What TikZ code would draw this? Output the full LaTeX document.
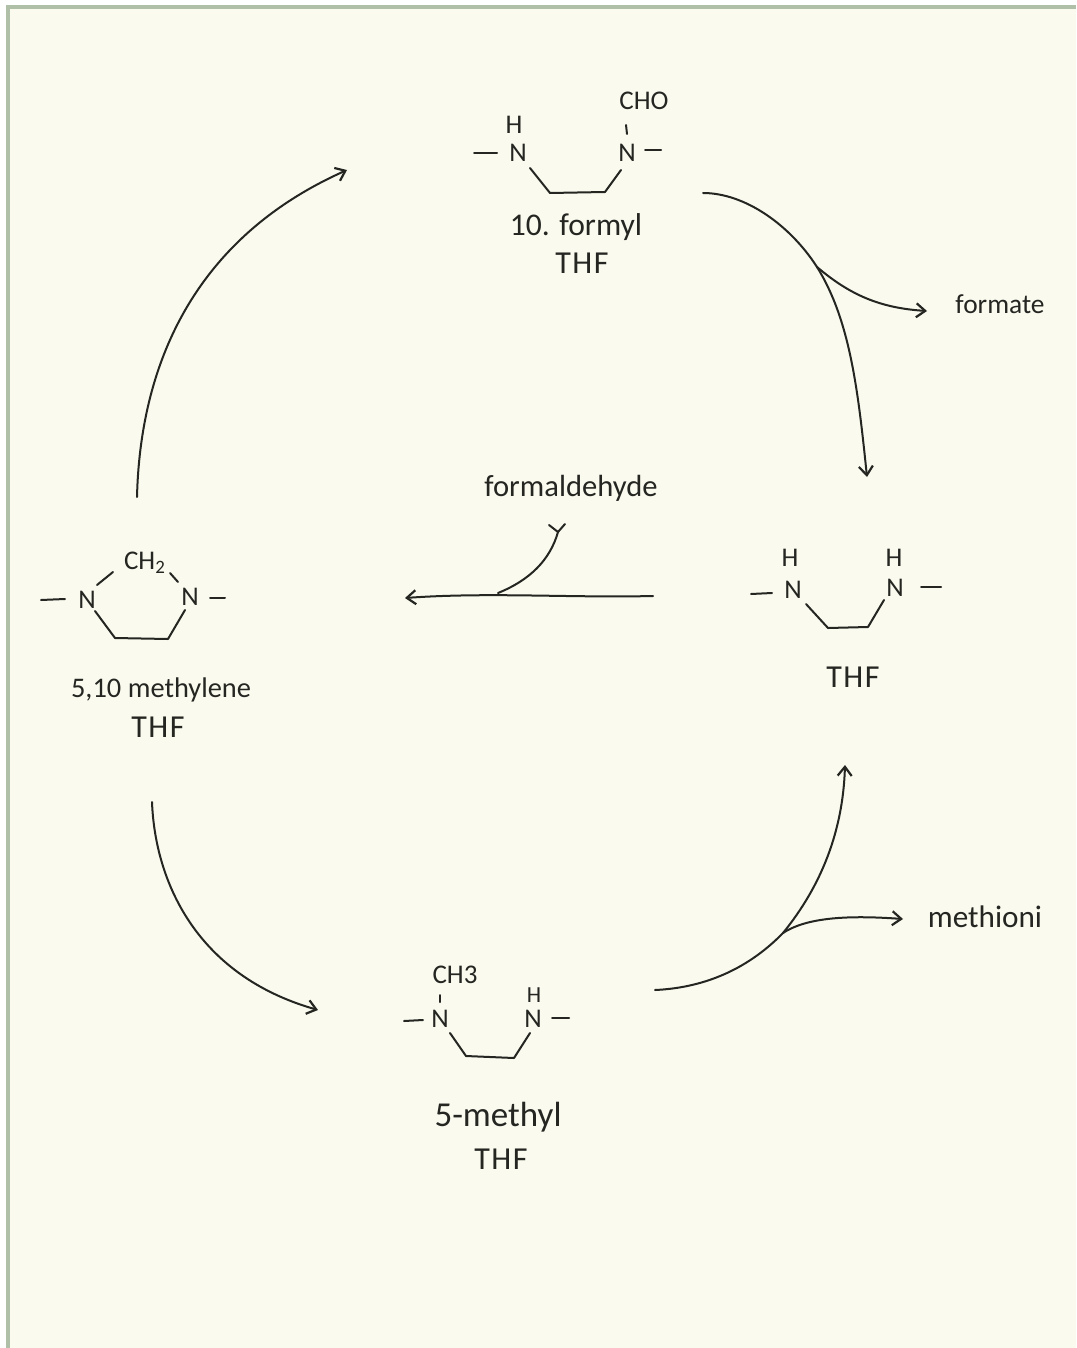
\documentclass[tikz,border=0pt]{standalone}
\usepackage{fontspec}
\setmainfont{Carlito}
\usetikzlibrary{arrows.meta}
\definecolor{paper}{HTML}{FAFBEE}
\definecolor{frame}{HTML}{B0BFA8}
\definecolor{ink}{HTML}{252522}
\tikzset{
  pen/.style={draw=ink,line width=1pt,line cap=round,line join=round},
  cyc/.style={pen,-{Straight Barb[length=4.5pt,width=7pt,line width=1.1pt]}},
  atom/.style={inner sep=0pt,text=ink,font=\fontsize{13.5}{13.5}\selectfont},
  lab/.style={inner sep=0pt,text=ink},
  thflab/.style={inner sep=0pt,text=ink,font=\fontsize{16}{16}\selectfont\addfontfeature{LetterSpace=5}},
}
\newcommand{\fs}[1]{\fontsize{#1}{#1}\selectfont}
\begin{document}
\begin{tikzpicture}[x=0.5pt,y=-0.5pt]
\useasboundingbox (0,0) rectangle (1076,1348);
\fill[white] (0,0) rectangle (1076,1348);
\fill[frame] (6,5) rectangle (1076,1348);
\fill[paper] (10,9) rectangle (1076,1348);

% --- 10-formyl THF
\node[atom] (fH) at (514,125) {H};
\node[atom] (fN1) at (518,153) {N};
\node[atom] (fN2) at (627,153) {N};
\node[atom] (fCHO) at (644,101) {CHO};
\coordinate (fa) at (530,168); \coordinate (fb) at (550,193);
\coordinate (fc) at (605,192); \coordinate (fd) at (621,170);
\draw[pen] (fa) -- (fb) -- (fc) -- (fd);
\coordinate (fe) at (474,153); \coordinate (ff) at (497,153);
\coordinate (fg) at (645,150); \coordinate (fh) at (661,150);
\coordinate (fi) at (626,125); \coordinate (fj) at (627,134);
\draw[pen] (fe) -- (ff); \draw[pen] (fg) -- (fh); \draw[pen] (fi) -- (fj);
\node[lab,font=\fs{15.8}] (fL1) at (576,227) {10. formyl};
\node[thflab] (fL2) at (582,263) {THF};

% --- THF
\node[atom] (tH1) at (790,558) {H};
\node[atom] (tN1) at (793,590) {N};
\node[atom] (tH2) at (894,558) {H};
\node[atom] (tN2) at (895,588) {N};
\coordinate (ta) at (806,604); \coordinate (tb) at (828,628);
\coordinate (tc) at (868,627); \coordinate (td) at (884,600);
\draw[pen] (ta) -- (tb) -- (tc) -- (td);
\coordinate (te) at (751,594); \coordinate (tf) at (772,593);
\coordinate (tg) at (921,587); \coordinate (th) at (941,587);
\draw[pen] (te) -- (tf); \draw[pen] (tg) -- (th);
\node[thflab] (tL) at (853,677) {THF};

% --- 5,10 methylene THF
\node[atom] (mN1) at (87,600) {N};
\node[atom] (mN2) at (190,597) {N};
\node[atom] (mCH) at (145,563) {CH\textsubscript{2}};
\coordinate (ma) at (95,611); \coordinate (mb) at (115,638);
\coordinate (mc) at (168,639); \coordinate (md) at (185,610);
\draw[pen] (ma) -- (mb) -- (mc) -- (md);
\coordinate (me) at (41,600); \coordinate (mf) at (65,599);
\coordinate (mg) at (210,598); \coordinate (mh) at (225,598);
\coordinate (mi) at (97,585); \coordinate (mj) at (113,572);
\coordinate (mk) at (170,573); \coordinate (ml) at (178,582);
\draw[pen] (me) -- (mf); \draw[pen] (mg) -- (mh);
\draw[pen] (mi) -- (mj); \draw[pen] (mk) -- (ml);
\node[lab,font=\fs{14.2}] (mL1) at (161,690) {5,10 methylene};
\node[thflab] (mL2) at (158,727) {THF};

% --- 5-methyl THF
\node[atom] (bCH) at (455,975) {CH3};
\node[atom] (bN1) at (440,1019) {N};
\node[atom,font=\fs{11.5}] (bH) at (534,995) {H};
\node[atom] (bN2) at (533,1019) {N};
\coordinate (ba) at (450,1033); \coordinate (bb) at (466,1056);
\coordinate (bc) at (514,1058); \coordinate (bd) at (530,1033);
\draw[pen] (ba) -- (bb) -- (bc) -- (bd);
\coordinate (be) at (404,1021); \coordinate (bf) at (423,1020);
\coordinate (bg) at (552,1018); \coordinate (bh) at (569,1018);
\coordinate (bi) at (440,995); \coordinate (bj) at (440,1002);
\draw[pen] (be) -- (bf); \draw[pen] (bg) -- (bh); \draw[pen] (bi) -- (bj);
\node[lab,font=\fs{17.5}] (bL1) at (498,1117) {5-methyl};
\node[thflab] (bL2) at (501,1159) {THF};

% --- side labels
\node[lab,font=\fs{13.7}] (formate) at (1000,304) {formate};
\node[lab,font=\fs{15.6}] (methioni) at (985,917) {methioni};
\node[lab,font=\fs{15.3}] (formald) at (571,488) {formaldehyde};

% --- cycle arrows
\coordinate (a1) at (137,497); \coordinate (a2) at (347,170);
\draw[cyc] (a1) .. controls (140,370) and (190,240) .. (a2);

\coordinate (b1) at (703,193); \coordinate (b2) at (817,267); \coordinate (b3) at (867,477);
\coordinate (b4) at (927,311);
\draw[pen] (b1) .. controls (745,193) and (790,225) .. (b2);
\draw[cyc] (b2) .. controls (850,320) and (858,390) .. (b3);
\draw[cyc] (b2) .. controls (850,295) and (880,308) .. (b4);

\coordinate (c1) at (653,596); \coordinate (c2) at (405,598); \coordinate (c3) at (498,593);
\coordinate (c4) at (558,532); \coordinate (c5) at (549,525); \coordinate (c6) at (565,524);
\draw[cyc] (c1) .. controls (570,598) and (490,592) .. (c2);
\draw[pen] (c4) .. controls (550,560) and (530,580) .. (c3);
\draw[pen] (c5) -- (c4) -- (c6);

\coordinate (d1) at (152,802); \coordinate (d2) at (318,1010);
\draw[cyc] (d1) .. controls (155,880) and (195,975) .. (d2);

\coordinate (e1) at (655,990); \coordinate (e2) at (783,933); \coordinate (e3) at (845,765);
\coordinate (e4) at (903,919);
\draw[pen] (e1) .. controls (700,988) and (745,972) .. (e2);
\draw[cyc] (e2) .. controls (822,885) and (843,830) .. (e3);
\draw[cyc] (e2) .. controls (810,915) and (860,916) .. (e4);
\end{tikzpicture}
\end{document}
